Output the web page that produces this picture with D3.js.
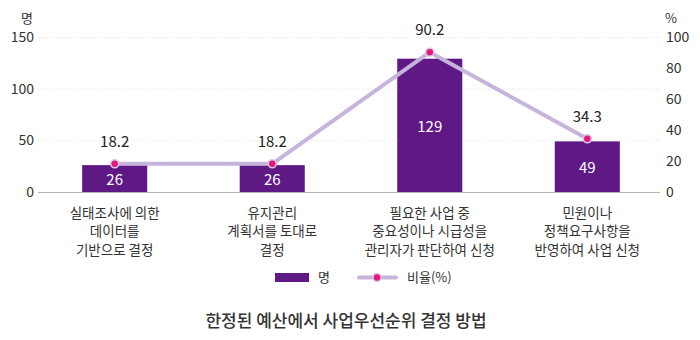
<!DOCTYPE html>
<html>
<head>
<meta charset="utf-8" />
<style>
html, body { margin: 0; padding: 0; background: #fff; }
svg text { font-family: "Noto Sans CJK KR", "Noto Sans", sans-serif; }
</style>
</head>
<body>
<svg id="chart" width="700" height="340"></svg>
<script src="https://d3js.org/d3.v7.min.js"></script>
<script>
// data
var categories = [
  ["실태조사에 의한", "데이터를", "기반으로 결정"],
  ["유지관리", "계획서를 토대로", "결정"],
  ["필요한 사업 중", "중요성이나 시급성을", "관리자가 판단하여 신청"],
  ["민원이나", "정책요구사항을", "반영하여 사업 신청"]
];
var counts = [26, 26, 129, 49];
var ratios = [18.2, 18.2, 90.2, 34.3];
var leftTicks = [0, 50, 100, 150];
var rightTicks = [0, 20, 40, 60, 80, 100];
var legendLabels = ["명", "비율(%)"];
var title = "한정된 예산에서 사업우선순위 결정 방법";

var svg = d3.select("#chart");
var plotL = 36, plotR = 666, plotT = 37, plotB = 192;

var x = d3.scaleBand().domain(d3.range(categories.length)).range([plotL, plotR]).paddingInner(0.587).paddingOuter(0.293);
var yL = d3.scaleLinear().domain([0, 150]).range([plotB, plotT]);
var yR = d3.scaleLinear().domain([0, 100]).range([plotB, plotT]);
function cx(i) { return x(i) + x.bandwidth() / 2; }

// grid
svg.append("g").selectAll("line").data(leftTicks.slice(1)).enter().append("line")
  .attr("x1", 38).attr("x2", 660)
  .attr("y1", function(d){ return yL(d) + 0.5; }).attr("y2", function(d){ return yL(d) + 0.5; })
  .attr("stroke", "#e2e2e2").attr("stroke-width", 1).attr("stroke-dasharray", "1,2");

// axes labels
svg.append("g").selectAll("text").data(leftTicks).enter().append("text")
  .attr("x", 34).attr("y", function(d){ return yL(d); }).attr("dy", "0.35em")
  .attr("text-anchor", "end").attr("font-size", 14).attr("fill", "#333").text(function(d){ return d; });
svg.append("g").selectAll("text").data(rightTicks).enter().append("text")
  .attr("x", 666).attr("y", function(d){ return yR(d); }).attr("dy", "0.35em")
  .attr("text-anchor", "start").attr("font-size", 14).attr("fill", "#333").text(function(d){ return d; });
svg.append("text").attr("x", 27).attr("y", 18).attr("dy", "0.35em").attr("text-anchor", "middle")
  .attr("font-size", 13).attr("fill", "#333").text("명");
svg.append("text").attr("x", 671).attr("y", 18).attr("dy", "0.35em").attr("text-anchor", "middle")
  .attr("font-size", 13).attr("fill", "#333").text("%");

// bars
svg.append("g").selectAll("rect").data(counts).enter().append("rect")
  .attr("x", function(d, i){ return x(i); }).attr("width", x.bandwidth())
  .attr("y", function(d){ return yL(d); }).attr("height", function(d){ return plotB - yL(d); })
  .attr("fill", "#5f1985");

// baseline
svg.append("line").attr("x1", 38).attr("x2", 660).attr("y1", plotB + 0.5).attr("y2", plotB + 0.5)
  .attr("stroke", "#b5b5b5").attr("stroke-width", 1.2);

// bar values
svg.append("g").selectAll("text").data(counts).enter().append("text")
  .attr("x", function(d, i){ return cx(i); })
  .attr("y", function(d){ return (yL(d) + plotB) / 2 + 1; }).attr("dy", "0.35em")
  .attr("text-anchor", "middle").attr("font-size", 15).attr("fill", "#fff").text(function(d){ return d; });

// line
var line = d3.line().x(function(d, i){ return cx(i); }).y(function(d){ return yR(d); });
svg.append("path").datum(ratios).attr("d", line).attr("fill", "none")
  .attr("stroke", "#c6b4dc").attr("stroke-width", 4).attr("stroke-linejoin", "round");
svg.append("g").selectAll("circle").data(ratios).enter().append("circle")
  .attr("cx", function(d, i){ return cx(i); }).attr("cy", function(d){ return yR(d); })
  .attr("r", 4).attr("fill", "#e5177b").attr("stroke", "#d9c8ea").attr("stroke-width", 1.5);
svg.append("g").selectAll("text").data(ratios).enter().append("text")
  .attr("x", function(d, i){ return cx(i); }).attr("y", function(d){ return yR(d) - 22; }).attr("dy", "0.35em")
  .attr("text-anchor", "middle").attr("font-size", 15).attr("fill", "#222").text(function(d){ return d.toFixed(1); });

// category labels
var cat = svg.append("g").selectAll("text").data(categories).enter().append("text")
  .attr("text-anchor", "middle").attr("font-size", 13.5).attr("fill", "#333");
cat.selectAll("tspan").data(function(d, i){ return d.map(function(s){ return { s: s, i: i }; }); }).enter().append("tspan")
  .attr("x", function(d){ return cx(d.i); })
  .attr("y", function(d, j){ return 213 + j * 18.5; }).attr("dy", "0.35em").text(function(d){ return d.s; });

// legend
var lg = svg.append("g");
lg.append("rect").attr("x", 275).attr("y", 273).attr("width", 34).attr("height", 9).attr("fill", "#5f1985");
lg.append("text").attr("x", 318).attr("y", 277.5).attr("dy", "0.35em").attr("font-size", 13).attr("fill", "#333").text(legendLabels[0]);
lg.append("line").attr("x1", 359).attr("x2", 396).attr("y1", 277.5).attr("y2", 277.5)
  .attr("stroke", "#c6b4dc").attr("stroke-width", 4).attr("stroke-linecap", "round");
lg.append("circle").attr("cx", 377).attr("cy", 277.5).attr("r", 4).attr("fill", "#e5177b").attr("stroke", "#d9c8ea").attr("stroke-width", 1.5);
lg.append("text").attr("x", 407).attr("y", 277.5).attr("dy", "0.35em").attr("font-size", 13).attr("fill", "#333").text(legendLabels[1]);

// title
svg.append("text").attr("x", 346).attr("y", 321).attr("dy", "0.35em").attr("text-anchor", "middle")
  .attr("font-size", 17).attr("font-weight", 500).attr("fill", "#333").text(title);
</script>
</body>
</html>
